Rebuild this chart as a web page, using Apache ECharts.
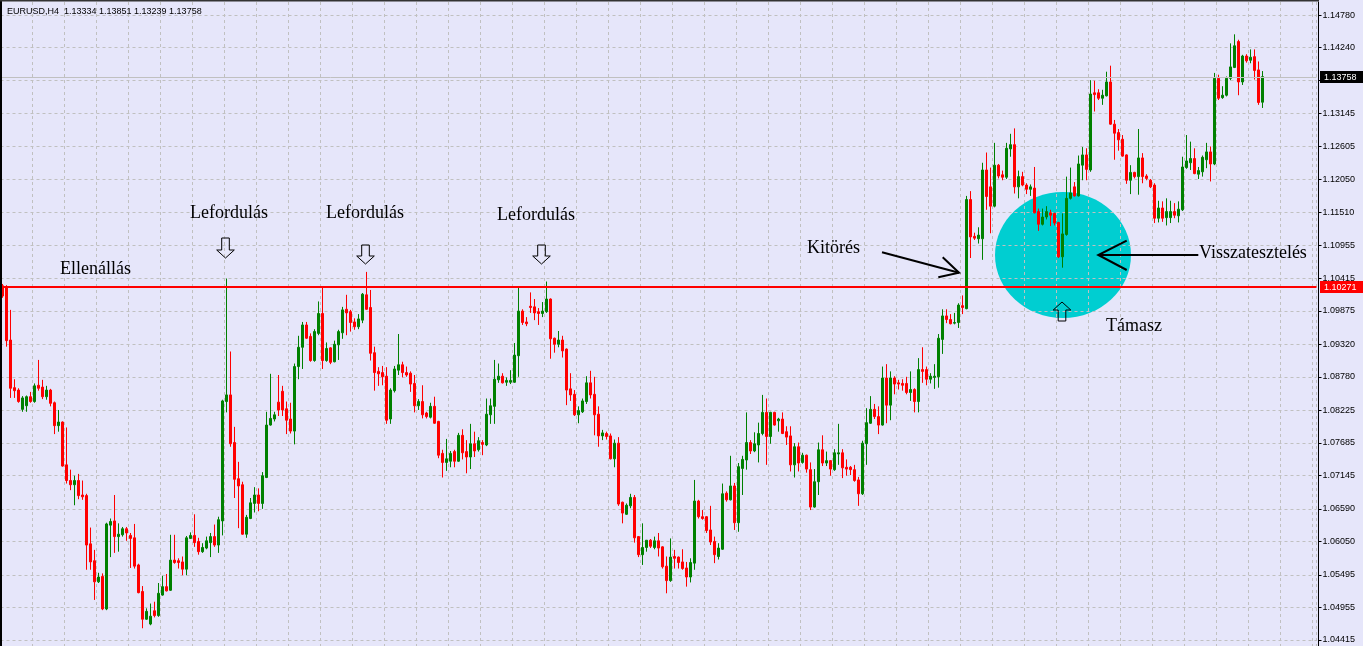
<!DOCTYPE html>
<html>
<head>
<meta charset="utf-8">
<script src="https://cdn.jsdelivr.net/npm/echarts@6/dist/echarts.min.js"></script>
<style>
html,body{margin:0;padding:0;background:#E6E6FA;}
#chart{width:1363px;height:646px;}
</style>
</head>
<body>
<div id="chart"></div>
<script>
// EURUSD H4 candles (price values)
const open = [
1.1029,1.1027,1.0939,1.0860,1.0856,1.0824,1.0830,1.0845,1.0837,1.0864,
1.0861,1.0845,1.0856,1.0835,1.0797,1.0803,1.0732,1.0706,1.0699,1.0706,
1.0682,1.0681,1.0601,1.0573,1.0538,1.0547,1.0493,1.0632,1.0639,1.0613,
1.0616,1.0626,1.0615,1.0611,1.0566,1.0522,1.0476,1.0468,1.0490,1.0482,
1.0516,1.0530,1.0524,1.0574,1.0573,1.0571,1.0559,1.0610,1.0615,1.0605,
1.0588,1.0594,1.0603,1.0613,1.0599,1.0639,1.0837,1.0848,1.0769,1.0709,
1.0699,1.0617,1.0643,1.0668,1.0682,1.0668,1.0711,1.0798,1.0808,1.0836,
1.0854,1.0825,1.0808,1.0788,1.0895,1.0927,1.0964,1.0945,1.0905,1.0950,
1.0983,1.0905,1.0926,1.0903,1.0931,1.0951,1.0990,1.0986,1.0969,1.0961,
1.0972,1.1014,1.0993,1.0918,1.0887,1.0885,1.0879,1.0808,1.0855,1.0889,
1.0898,1.0885,1.0884,1.0867,1.0830,1.0837,1.0818,1.0811,1.0829,1.0804,
1.0751,1.0736,1.0738,1.0754,1.0738,1.0781,1.0754,1.0745,1.0767,1.0757,
1.0769,1.0765,1.0815,1.0829,1.0873,1.0879,1.0869,1.0869,1.0869,1.0913,
1.0987,1.0969,1.0995,1.0994,1.0986,1.0983,1.0986,1.1007,1.0942,1.0932,
1.0939,1.0924,1.0858,1.0849,1.0815,1.0820,1.0837,1.0868,1.0849,1.0816,
1.0780,1.0784,1.0780,1.0742,1.0768,1.0670,1.0650,1.0664,1.0678,1.0613,
1.0583,1.0595,1.0607,1.0595,1.0606,1.0596,1.0564,1.0540,1.0580,1.0579,
1.0571,1.0561,1.0546,1.0569,1.0672,1.0646,1.0646,1.0624,1.0605,1.0580,
1.0592,1.0685,1.0674,1.0697,1.0636,1.0726,1.0740,1.0769,1.0755,1.0765,
1.0784,1.0819,1.0779,1.0819,1.0805,1.0808,1.0787,1.0780,1.0732,1.0762,
1.0736,1.0748,1.0724,1.0662,1.0704,1.0757,1.0735,1.0739,1.0724,1.0750,
1.0752,1.0728,1.0728,1.0724,1.0707,1.0684,1.0767,1.0801,1.0824,1.0812,
1.0798,1.0876,1.0831,1.0876,1.0868,1.0867,1.0867,1.0852,1.0857,1.0837,
1.0890,1.0890,1.0874,1.0877,1.0878,1.0940,1.0979,1.0973,1.0967,1.0968,
1.0996,1.0991,1.1172,1.1111,1.1107,1.1107,1.1221,1.1193,1.1161,1.1229,
1.1213,1.1209,1.1256,1.1263,1.1193,1.1210,1.1196,1.1189,1.1191,1.1152,
1.1131,1.1143,1.1150,1.1149,1.1134,1.1077,1.1114,1.1174,1.1193,1.1178,
1.1229,1.1246,1.1221,1.1349,1.1349,1.1340,1.1344,1.1367,1.1297,1.1283,
1.1272,1.1246,1.1204,1.1217,1.1210,1.1241,1.1211,1.1204,1.1196,1.1141,
1.1158,1.1142,1.1142,1.1152,1.1145,1.1155,1.1225,1.1233,1.1240,1.1214,
1.1218,1.1238,1.1251,1.1231,1.1373,1.1341,1.1345,1.1373,1.1391,1.1434,
1.1367,1.1410,1.1403,1.1409,1.1387,1.13334
];
const high = [
1.1032,1.1030,1.0989,1.0874,1.0859,1.0846,1.0847,1.0853,1.0867,1.0906,
1.0873,1.0863,1.0858,1.0837,1.0823,1.0804,1.0794,1.0724,1.0714,1.0717,
1.0706,1.0684,1.0628,1.0591,1.0553,1.0552,1.0636,1.0643,1.0682,1.0635,
1.0629,1.0629,1.0619,1.0634,1.0568,1.0531,1.0494,1.0502,1.0505,1.0536,
1.0548,1.0551,1.0616,1.0616,1.0577,1.0580,1.0614,1.0620,1.0650,1.0611,
1.0602,1.0613,1.0619,1.0633,1.0646,1.0840,1.1041,1.0920,1.0795,1.0737,
1.0704,1.0649,1.0677,1.0695,1.0693,1.0720,1.0820,1.0883,1.0820,1.0881,
1.0863,1.0837,1.0835,1.0900,1.0946,1.0969,1.0969,1.0950,1.0957,1.1003,
1.1027,1.0935,1.0927,1.0938,1.0956,1.0994,1.1014,1.0989,1.0975,1.0982,
1.1017,1.1052,1.1022,1.0928,1.0894,1.0896,1.0894,1.0859,1.0896,1.0949,
1.0903,1.0895,1.0887,1.0881,1.0841,1.0864,1.0820,1.0835,1.0845,1.0805,
1.0757,1.0775,1.0755,1.0757,1.0785,1.0791,1.0773,1.0800,1.0787,1.0778,
1.0773,1.0842,1.0842,1.0906,1.0900,1.0884,1.0877,1.0889,1.0934,1.1027,
1.0990,1.0977,1.1018,1.1007,1.0992,1.1002,1.1036,1.1008,1.0943,1.0954,
1.0946,1.0925,1.0884,1.0856,1.0829,1.0842,1.0879,1.0888,1.0878,1.0829,
1.0790,1.0787,1.0784,1.0774,1.0778,1.0671,1.0668,1.0684,1.0682,1.0614,
1.0635,1.0607,1.0609,1.0613,1.0619,1.0597,1.0580,1.0610,1.0591,1.0580,
1.0592,1.0571,1.0577,1.0707,1.0674,1.0657,1.0647,1.0664,1.0613,1.0602,
1.0701,1.0688,1.0747,1.0702,1.0735,1.0747,1.0819,1.0773,1.0786,1.0802,
1.0848,1.0842,1.0820,1.0820,1.0810,1.0819,1.0796,1.0796,1.0768,1.0769,
1.0752,1.0749,1.0736,1.0725,1.0769,1.0781,1.0754,1.0740,1.0758,1.0800,
1.0758,1.0741,1.0730,1.0732,1.0712,1.0772,1.0826,1.0846,1.0833,1.0829,
1.0895,1.0899,1.0887,1.0879,1.0873,1.0874,1.0878,1.0887,1.0859,1.0909,
1.0927,1.0895,1.0884,1.0899,1.0949,1.0990,1.0990,1.0982,1.0984,1.1000,
1.1013,1.1178,1.1186,1.1117,1.1126,1.1233,1.1250,1.1225,1.1266,1.1231,
1.1220,1.1266,1.1281,1.1290,1.1220,1.1218,1.1199,1.1197,1.1226,1.1157,
1.1157,1.1161,1.1155,1.1150,1.1135,1.1149,1.1210,1.1225,1.1201,1.1245,
1.1259,1.1257,1.1370,1.1369,1.1355,1.1354,1.1384,1.1394,1.1304,1.1289,
1.1279,1.1247,1.1229,1.1218,1.1289,1.1249,1.1214,1.1206,1.1199,1.1170,
1.1169,1.1174,1.1170,1.1166,1.1169,1.1243,1.1279,1.1268,1.1257,1.1226,
1.1245,1.1266,1.1260,1.1382,1.1379,1.1360,1.1376,1.1431,1.1446,1.1437,
1.1412,1.1413,1.1421,1.1421,1.1401,1.13851
];
const low = [
1.1009,1.0928,1.0843,1.0843,1.0835,1.0820,1.0820,1.0835,1.0835,1.0855,
1.0841,1.0840,1.0829,1.0783,1.0787,1.0729,1.0701,1.0690,1.0665,1.0675,
1.0674,1.0558,1.0558,1.0508,1.0536,1.0491,1.0491,1.0579,1.0586,1.0588,
1.0613,1.0606,1.0561,1.0560,1.0519,1.0461,1.0475,1.0466,1.0479,1.0480,
1.0515,1.0522,1.0523,1.0568,1.0560,1.0549,1.0549,1.0609,1.0596,1.0583,
1.0586,1.0592,1.0579,1.0596,1.0586,1.0615,1.0819,1.0762,1.0677,1.0627,
1.0616,1.0611,1.0642,1.0653,1.0655,1.0659,1.0710,1.0797,1.0804,1.0813,
1.0813,1.0783,1.0784,1.0766,1.0874,1.0891,1.0941,1.0903,1.0903,1.0947,
1.0891,1.0903,1.0899,1.0902,1.0906,1.0941,1.0947,1.0953,1.0956,1.0957,
1.0967,1.0989,1.0905,1.0855,1.0863,1.0864,1.0800,1.0800,1.0852,1.0881,
1.0877,1.0878,1.0853,1.0819,1.0823,1.0809,1.0809,1.0809,1.0800,1.0743,
1.0711,1.0722,1.0728,1.0728,1.0737,1.0741,1.0718,1.0725,1.0745,1.0754,
1.0748,1.0763,1.0800,1.0800,1.0868,1.0867,1.0863,1.0866,1.0868,1.0878,
1.0964,1.0962,1.0984,1.0972,1.0964,1.0977,1.0984,1.0908,1.0918,1.0927,
1.0910,1.0831,1.0838,1.0813,1.0801,1.0818,1.0833,1.0842,1.0781,1.0762,
1.0773,1.0774,1.0741,1.0728,1.0664,1.0635,1.0649,1.0660,1.0603,1.0579,
1.0566,1.0588,1.0594,1.0592,1.0580,1.0560,1.0519,1.0538,1.0560,1.0560,
1.0558,1.0530,1.0537,1.0558,1.0643,1.0641,1.0619,1.0599,1.0569,1.0575,
1.0591,1.0671,1.0673,1.0624,1.0621,1.0682,1.0724,1.0750,1.0753,1.0736,
1.0781,1.0732,1.0767,1.0797,1.0787,1.0783,1.0765,1.0721,1.0711,1.0721,
1.0734,1.0719,1.0657,1.0661,1.0682,1.0730,1.0730,1.0714,1.0722,1.0732,
1.0710,1.0714,1.0715,1.0704,1.0664,1.0682,1.0732,1.0800,1.0808,1.0783,
1.0797,1.0801,1.0806,1.0849,1.0857,1.0855,1.0849,1.0838,1.0819,1.0819,
1.0868,1.0864,1.0867,1.0858,1.0860,1.0916,1.0967,1.0965,1.0965,1.0959,
1.0982,1.0990,1.1075,1.1105,1.1099,1.1072,1.1155,1.1116,1.1159,1.1207,
1.1204,1.1206,1.1243,1.1182,1.1174,1.1194,1.1181,1.1178,1.1149,1.1120,
1.1129,1.1139,1.1128,1.1129,1.1075,1.1059,1.1112,1.1172,1.1177,1.1177,
1.1204,1.1204,1.1218,1.1318,1.1337,1.1329,1.1343,1.1296,1.1238,1.1253,
1.1243,1.1198,1.1181,1.1207,1.1180,1.1199,1.1204,1.1191,1.1133,1.1134,
1.1135,1.1129,1.1133,1.1141,1.1134,1.1153,1.1223,1.1221,1.1214,1.1206,
1.1210,1.1224,1.1202,1.1229,1.1337,1.1339,1.1343,1.1370,1.1390,1.1345,
1.1362,1.1399,1.1398,1.1371,1.1329,1.13239
];
const close = [
1.1012,1.0938,1.0859,1.0855,1.0837,1.0843,1.0845,1.0837,1.0863,1.0859,
1.0845,1.0856,1.0834,1.0797,1.0803,1.0730,1.0706,1.0699,1.0706,1.0681,
1.0679,1.0599,1.0571,1.0538,1.0546,1.0493,1.0634,1.0638,1.0613,1.0617,
1.0626,1.0619,1.0610,1.0564,1.0520,1.0476,1.0489,1.0481,1.0482,1.0519,
1.0530,1.0523,1.0574,1.0570,1.0570,1.0559,1.0611,1.0615,1.0603,1.0588,
1.0595,1.0606,1.0613,1.0599,1.0641,1.0838,1.0848,1.0767,1.0708,1.0697,
1.0617,1.0645,1.0669,1.0682,1.0668,1.0714,1.0798,1.0809,1.0815,1.0823,
1.0823,1.0806,1.0788,1.0895,1.0927,1.0964,1.0942,1.0905,1.0953,1.0983,
1.0905,1.0925,1.0902,1.0932,1.0953,1.0989,1.0984,1.0968,1.0961,1.0974,
1.1015,1.0990,1.0917,1.0885,1.0883,1.0878,1.0806,1.0856,1.0891,1.0898,
1.0885,1.0881,1.0866,1.0830,1.0837,1.0815,1.0812,1.0829,1.0801,1.0748,
1.0736,1.0742,1.0751,1.0738,1.0781,1.0752,1.0745,1.0767,1.0755,1.0772,
1.0766,1.0816,1.0830,1.0874,1.0879,1.0868,1.0872,1.0872,1.0914,1.0987,
1.0968,1.0966,1.0993,1.0984,1.0983,1.0987,1.1007,1.0941,1.0932,1.0939,
1.0921,1.0856,1.0848,1.0815,1.0822,1.0838,1.0868,1.0848,1.0815,1.0780,
1.0785,1.0779,1.0742,1.0768,1.0667,1.0652,1.0665,1.0678,1.0611,1.0583,
1.0595,1.0607,1.0597,1.0606,1.0594,1.0563,1.0540,1.0579,1.0577,1.0570,
1.0560,1.0546,1.0570,1.0672,1.0646,1.0643,1.0623,1.0604,1.0583,1.0594,
1.0684,1.0674,1.0697,1.0636,1.0729,1.0741,1.0769,1.0755,1.0767,1.0784,
1.0819,1.0779,1.0819,1.0798,1.0808,1.0784,1.0778,1.0732,1.0762,1.0735,
1.0748,1.0725,1.0662,1.0704,1.0757,1.0735,1.0739,1.0725,1.0752,1.0752,
1.0727,1.0725,1.0724,1.0706,1.0684,1.0768,1.0802,1.0824,1.0812,1.0798,
1.0876,1.0831,1.0876,1.0866,1.0866,1.0864,1.0852,1.0857,1.0837,1.0890,
1.0887,1.0874,1.0879,1.0879,1.0942,1.0979,1.0973,1.0966,1.0968,1.0997,
1.0993,1.1172,1.1110,1.1108,1.1113,1.1221,1.1177,1.1161,1.1229,1.1211,
1.1209,1.1257,1.1263,1.1193,1.1210,1.1196,1.1189,1.1193,1.1150,1.1131,
1.1143,1.1152,1.1146,1.1133,1.1077,1.1115,1.1174,1.1183,1.1178,1.1231,
1.1246,1.1222,1.1347,1.1346,1.1340,1.1345,1.1367,1.1297,1.1282,1.1271,
1.1244,1.1204,1.1217,1.1210,1.1241,1.1210,1.1207,1.1193,1.1141,1.1158,
1.1141,1.1152,1.1152,1.1146,1.1156,1.1226,1.1236,1.1240,1.1215,1.1220,
1.1242,1.1251,1.1231,1.1373,1.1340,1.1345,1.1373,1.1392,1.1427,1.1367,
1.1410,1.1402,1.1408,1.1386,1.1333,1.13758
];
// price axis labels shown on the right
const yTicks = [1.04415,1.04955,1.05495,1.06050,1.06590,1.07145,1.07685,1.08225,1.08780,1.09320,
  1.09875,1.10415,1.10955,1.11510,1.12050,1.12605,1.13145,1.13700,1.14240,1.14780];
const resistanceLevel = 1.10271;
const bidLevel = 1.13758;
const titleText = 'EURUSD,H4  1.13334 1.13851 1.13239 1.13758';
const totalSlots = 329; // chart shifted: empty space after last bar

const categories = [];
for (let i = 0; i < totalSlots; i++) categories.push(String(i));
const candleData = open.map((o, i) => [o, close[i], low[i], high[i]]);

const chart = echarts.init(document.getElementById('chart'), null, {renderer: 'canvas'});
const gridCol = '#c0c0c0';
const serif = '"Liberation Serif","Times New Roman",serif';
const sans = '"Liberation Sans",Arial,sans-serif';
const GRID_LEFT = 0.5, GRID_RIGHT = 46.5;
const plotRight = 1363 - GRID_RIGHT;

chart.setOption({
  animation: false,
  backgroundColor: '#E6E6FA',
  grid: {left: GRID_LEFT, right: GRID_RIGHT, top: 2, bottom: 0, containLabel: false},
  xAxis: [
    {type: 'category', data: categories, boundaryGap: true,
     axisLine: {show: false}, axisTick: {show: false}, axisLabel: {show: false}, splitLine: {show: false}},
    {type: 'value', min: -0.5, max: totalSlots - 0.5, interval: 8, position: 'top',
     axisLine: {show: false}, axisTick: {show: false}, axisLabel: {show: false},
     splitLine: {show: true, lineStyle: {color: gridCol, type: [3, 3], width: 1}}}
  ],
  yAxis: {
    type: 'value', position: 'right', offset: 2, scale: true,
    min: 1.043157, max: 1.14996,
    axisLine: {show: true, onZero: false, lineStyle: {color: '#000', width: 1}},
    axisTick: {show: true, length: 3, customValues: yTicks, lineStyle: {color: '#000'}},
    axisLabel: {show: true, customValues: yTicks, formatter: v => v.toFixed(5),
      color: '#000', fontSize: 9, fontFamily: sans, margin: 4},
    splitLine: {show: true, lineStyle: {color: gridCol, type: [3, 3], width: 1}}
  },
  series: [{
    type: 'candlestick',
    xAxisIndex: 0, yAxisIndex: 0,
    data: candleData,
    barWidth: 2,
    itemStyle: {color: '#008000', color0: '#ff0000', borderColor: '#008000', borderColor0: '#ff0000', borderWidth: 1}
  }]
});

// price levels placed through the y axis scale
const yRes = chart.convertToPixel({yAxisIndex: 0}, resistanceLevel);
const yBid = chart.convertToPixel({yAxisIndex: 0}, bidLevel);

function downArrow(cx, yt, yb) {
  return {type: 'polygon', z: 20, silent: true,
    shape: {points: [[cx-3.8,yt],[cx+3.8,yt],[cx+3.8,yb-8],[cx+8.8,yb-8],[cx,yb],[cx-8.8,yb-8],[cx-3.8,yb-8]]},
    style: {fill: 'rgba(255,255,255,0)', stroke: '#000', lineWidth: 1}};
}
function upArrow(cx, yt, yb) {
  return {type: 'polygon', z: 20, silent: true,
    shape: {points: [[cx-3.8,yb],[cx+3.8,yb],[cx+3.8,yt+8],[cx+8.8,yt+8],[cx,yt],[cx-8.8,yt+8],[cx-3.8,yt+8]]},
    style: {fill: 'rgba(255,255,255,0)', stroke: '#000', lineWidth: 1}};
}
function txt(s, x, y) {
  return {type: 'text', z: 20, silent: true,
    style: {text: s, x: x, y: y, fill: '#000', font: '18px ' + serif, textAlign: 'left', textVerticalAlign: 'middle'}};
}
function line(pts, w) {
  return {type: 'polyline', z: 20, silent: true, shape: {points: pts}, style: {stroke: '#000', lineWidth: w, fill: null}};
}
function priceTag(y, text, bg, x0) {
  return [
    {type: 'rect', z: 25, silent: true, shape: {x: x0, y: Math.round(y) - 6, width: 1363 - x0, height: 12}, style: {fill: bg}},
    {type: 'text', z: 26, silent: true, style: {text: text, x: x0 + 4, y: Math.round(y) + 0.5, fill: '#fff',
      font: '9px ' + sans, textVerticalAlign: 'middle'}}
  ];
}

chart.setOption({
  graphic: [
    {type: 'ellipse', z: -5, silent: true, shape: {cx: 1063, cy: 255, rx: 68, ry: 63}, style: {fill: '#00CED1'}},
    {type: 'line', z: 3, silent: true, shape: {x1: 2, y1: Math.round(yBid) + 0.5, x2: plotRight, y2: Math.round(yBid) + 0.5},
     style: {stroke: '#c0c0c0', lineWidth: 1}},
    {type: 'line', z: 3, silent: true, shape: {x1: 2, y1: Math.round(yRes), x2: plotRight, y2: Math.round(yRes)},
     style: {stroke: '#ff0000', lineWidth: 2}},
    ...priceTag(yBid, bidLevel.toFixed(5), '#000', 1320),
    ...priceTag(yRes, resistanceLevel.toFixed(5), '#ff0000', 1320),
    {type: 'rect', z: 30, silent: true, shape: {x: 0, y: 0, width: 2, height: 646}, style: {fill: '#000'}},
    {type: 'rect', z: 30, silent: true, shape: {x: 0, y: 0, width: 1319, height: 1.5}, style: {fill: '#333'}},
    {type: 'text', z: 30, silent: true, style: {text: titleText, x: 7, y: 12, fill: '#000', font: '9px ' + sans, textVerticalAlign: 'middle'}},
    txt('Ellenállás', 60, 269),
    txt('Lefordulás', 190, 213),
    txt('Lefordulás', 326, 213),
    txt('Lefordulás', 497, 215),
    txt('Kitörés', 807, 248.5),
    txt('Visszatesztelés', 1199, 253),
    txt('Támasz', 1106, 326),
    downArrow(225.5, 238, 258),
    downArrow(365.5, 245, 264),
    downArrow(541.5, 245, 264),
    upArrow(1062, 302, 321),
    line([[882, 252.3], [959, 272.7]], 2),
    line([[942.7, 257.3], [959, 272.7], [938.3, 277.3]], 2),
    line([[1100, 255], [1198.3, 255]], 2),
    line([[1126.7, 240.7], [1098.3, 255], [1126.7, 270]], 2)
  ]
});
</script>
</body>
</html>
